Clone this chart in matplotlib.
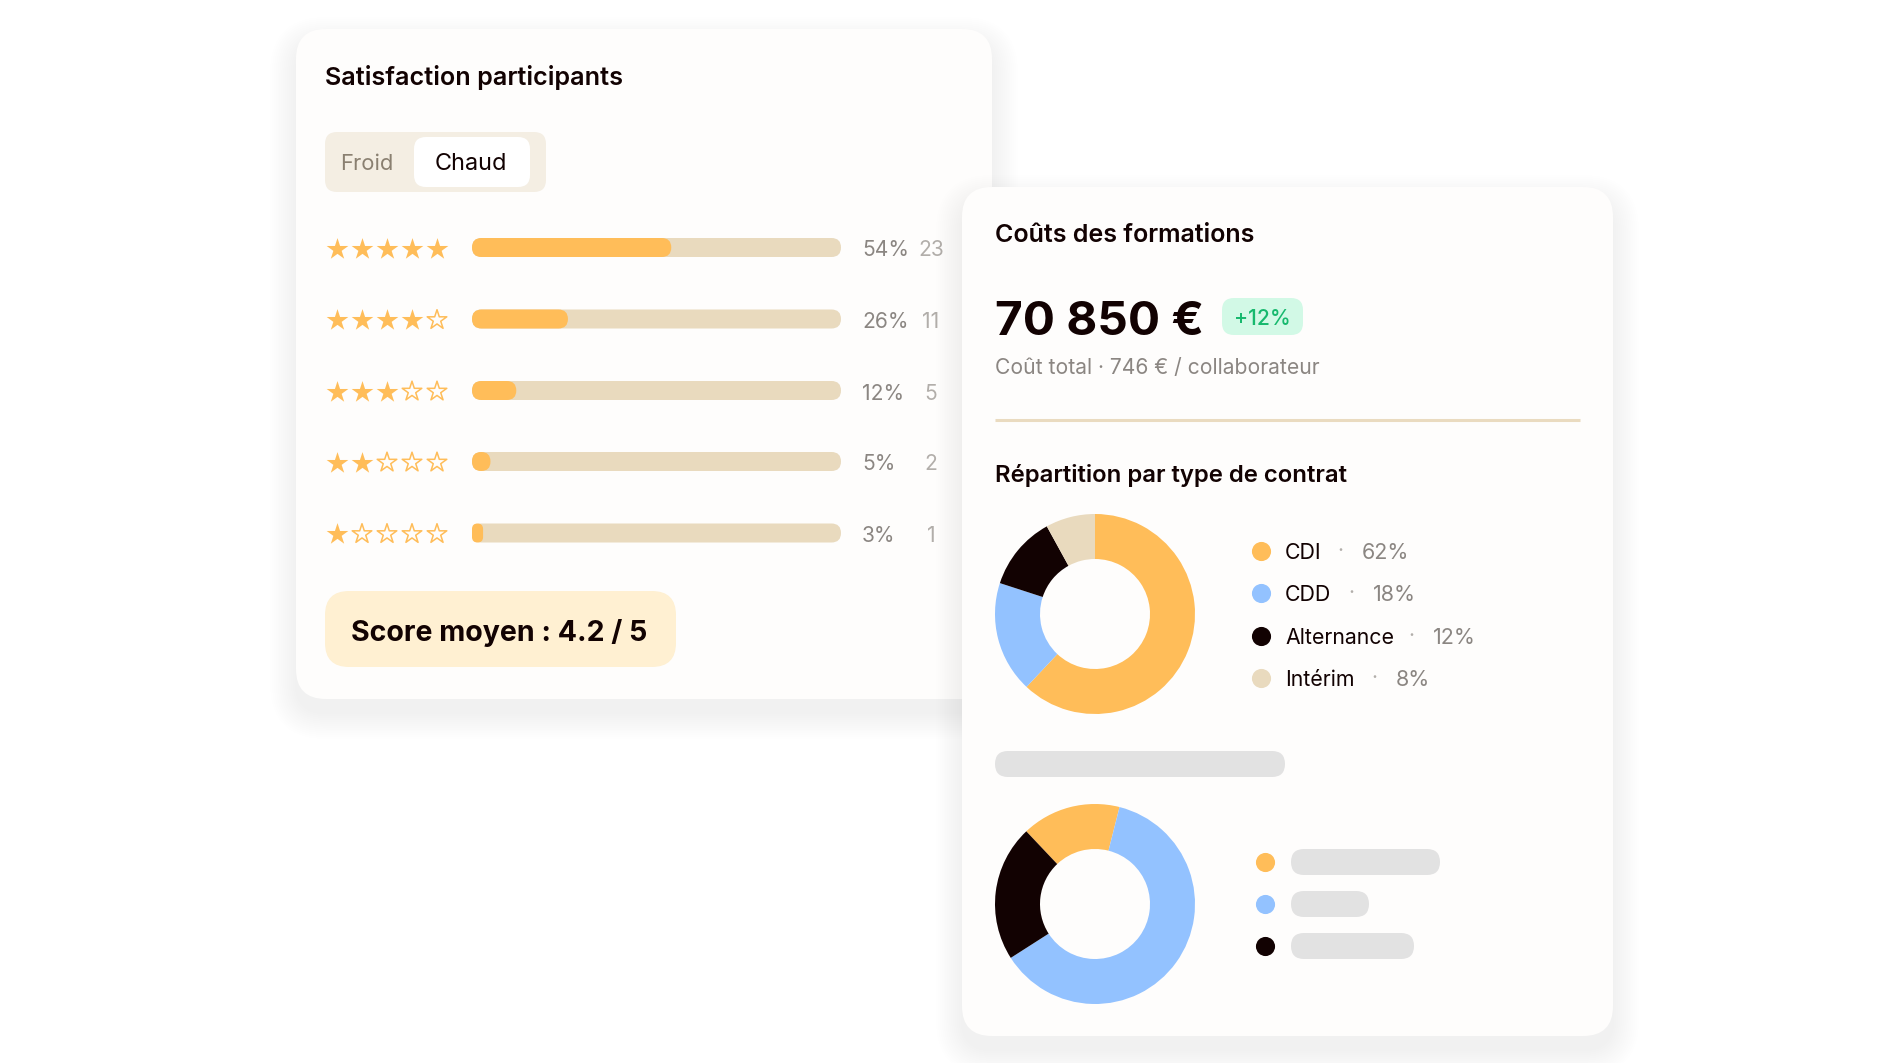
import matplotlib
matplotlib.use('Agg')
import matplotlib.pyplot as plt
from matplotlib.patches import FancyBboxPatch

plt.rcParams['font.family'] = ['Inter', 'DejaVu Sans']

W = 1890
H = 1063

ORANGE = '#FFBD59'
BLUE = '#93C2FF'
BLACK = '#120202'
BEIGE = '#E9DABE'
CARD = '#FEFDFC'
GREY_TXT = '#8B8682'
LIGHT_TXT = '#B2AEAA'
SKELETON = '#E2E2E2'

# Satisfaction data
stars_filled = [5, 4, 3, 2, 1]
satisfaction_pct = [54, 26, 12, 5, 3]
satisfaction_count = [23, 11, 5, 2, 1]

# Contract split
contract_labels = ['CDI', 'CDD', 'Alternance', 'Intérim']
contract_pct = [62, 18, 12, 8]
contract_colors = [ORANGE, BLUE, BLACK, BEIGE]
contract_sep_x = [1340, 1351, 1411, 1374]
contract_pct_x = [1362, 1373, 1433, 1396]

# Second donut, labels are only placeholders in the picture
other_pct = [16, 62, 22]
other_colors = [ORANGE, BLUE, BLACK]
other_bar_ends = [1440, 1369, 1414]


def px(size):
    # font size in pixels to points
    return size * 0.72


def round_box(ax, x0, y0, x1, y1, r, color, zorder=2, alpha=1.0):
    r = min(r, (x1 - x0) / 2.0, (y1 - y0) / 2.0)
    box = FancyBboxPatch((x0, y0), x1 - x0, y1 - y0, boxstyle='round,pad=0,rounding_size=%s' % r,
                         facecolor=color, edgecolor='none', zorder=zorder, alpha=alpha)
    ax.add_patch(box)


def card(ax, x0, y0, x1, y1, zorder):
    # Soft shadow: stacked transparent boxes, then the card on top
    for i in range(14):
        grow = 26 - i * 1.9
        round_box(ax, x0 - grow, y0 - grow + 14, x1 + grow, y1 + grow + 14, 30 + grow,
                  '#5A5F78', zorder=zorder, alpha=0.0022)
    round_box(ax, x0, y0, x1, y1, 30, CARD, zorder=zorder)


def donut(fig, center_x, center_y, radius, values, colors, start):
    donut_ax = fig.add_axes([(center_x - radius) / W, 1 - (center_y + radius) / H,
                             2.0 * radius / W, 2.0 * radius / H])
    donut_ax.pie(values, colors=colors, startangle=start, counterclock=False, radius=1.0,
                 wedgeprops={'width': 0.45, 'linewidth': 0})
    donut_ax.set_xlim(-1, 1)
    donut_ax.set_ylim(-1, 1)
    donut_ax.set_zorder(10)


fig = plt.figure(figsize=(W / 100.0, H / 100.0), dpi=100, facecolor='white')
ax = fig.add_axes([0, 0, 1, 1])
ax.set_xlim(0, W)
ax.set_ylim(H, 0)
ax.axis('off')

# Left card -------------------------------------------------------------------
card(ax, 296, 29, 992, 699, 1)
ax.text(325, 77, 'Satisfaction participants', fontsize=px(25.2), fontweight='semibold',
        color=BLACK, va='center', zorder=3)

# Toggle
round_box(ax, 325, 132, 546, 192, 12, '#F4EEE3', zorder=3)
round_box(ax, 414, 137, 530, 187, 12, 'white', zorder=4)
ax.text(340, 164, 'Froid', fontsize=px(22), color='#8A8071', va='center', zorder=5)
ax.text(471, 164, 'Chaud', fontsize=px(23.5), color=BLACK, va='center', ha='center', zorder=5)

# Rows
row_y = [247.5, 319, 390.5, 461.5, 533]
bar_x0 = 472
bar_x1 = 841
for i in range(len(satisfaction_pct)):
    y = row_y[i]
    for s in range(5):
        star_x = 337 + s * 25.0
        if s < stars_filled[i]:
            ax.scatter(star_x, y + 1, marker='*', s=270, color=ORANGE, linewidths=0, zorder=3)
        else:
            ax.scatter(star_x, y + 1, marker='*', s=220, facecolor='none', edgecolor=ORANGE,
                       linewidths=1.1, zorder=3)
    round_box(ax, bar_x0, y - 9.5, bar_x1, y + 9.5, 9.5, BEIGE, zorder=3)
    fill_x1 = bar_x0 + (bar_x1 - bar_x0) * satisfaction_pct[i] / 100.0
    round_box(ax, bar_x0, y - 9.5, fill_x1, y + 9.5, 9.5, ORANGE, zorder=4)
    ax.text(862, y + 3, '%d%%' % satisfaction_pct[i], fontsize=px(21), color=GREY_TXT, va='center', zorder=3)
    ax.text(931, y + 3, str(satisfaction_count[i]), fontsize=px(21), color=LIGHT_TXT, va='center', ha='center', zorder=3)

# Score
round_box(ax, 325, 591, 676, 667, 24, '#FFF0D2', zorder=3)
ax.text(351, 633, 'Score moyen : 4.2 / 5', fontsize=px(28.5), fontweight='bold', color=BLACK, va='center', zorder=4)

# Right card ------------------------------------------------------------------
card(ax, 962, 187, 1613, 1036, 6)
ax.text(995, 236, 'Coûts des formations', fontsize=px(25), fontweight='semibold', color=BLACK, va='center', zorder=7)
ax.text(995, 323, '70 850 €', fontsize=px(47.7), fontweight='bold', color=BLACK, va='center', zorder=7)

round_box(ax, 1222, 298, 1303, 335, 12, '#D2F9E6', zorder=7)
ax.text(1262.5, 319, '+12%', fontsize=px(21), fontweight='medium', color='#17B96E', va='center', ha='center', zorder=8)

ax.text(995, 368.5, 'Coût total · 746 € / collaborateur', fontsize=px(21.1), color=GREY_TXT, va='center', zorder=7)
ax.plot([995, 1580], [420, 420], color='#EADBC0', linewidth=2.2, zorder=7, solid_capstyle='butt')
ax.text(995, 475.5, 'Répartition par type de contrat', fontsize=px(23.9), fontweight='semibold', color=BLACK, va='center', zorder=7)

donut(fig, 1095, 614, 100, contract_pct, contract_colors, 90)

legend_y = [551, 593, 636, 678]
for i in range(len(contract_labels)):
    ax.scatter(1260.5, legend_y[i], s=190, color=contract_colors[i], linewidths=0, zorder=7)
    ax.text(1285, legend_y[i] + 2, contract_labels[i], fontsize=px(21.3), color=BLACK, va='center', zorder=7)
    ax.text(contract_sep_x[i], legend_y[i], '·', fontsize=px(21), color=LIGHT_TXT, va='center', ha='center', zorder=7)
    ax.text(contract_pct_x[i], legend_y[i] + 2, '%d%%' % contract_pct[i], fontsize=px(21.5), color=GREY_TXT, va='center', zorder=7)

# Second block, skeleton labels
round_box(ax, 995, 751, 1285, 777, 13, SKELETON, zorder=7)
donut(fig, 1095, 904, 100, other_pct, other_colors, 133.4)

other_y = [862, 904, 946]
for i in range(len(other_pct)):
    ax.scatter(1265, other_y[i], s=190, color=other_colors[i], linewidths=0, zorder=7)
    round_box(ax, 1291, other_y[i] - 13, other_bar_ends[i], other_y[i] + 13, 13, SKELETON, zorder=7)

fig.savefig('out.png', dpi=100, facecolor='white')
